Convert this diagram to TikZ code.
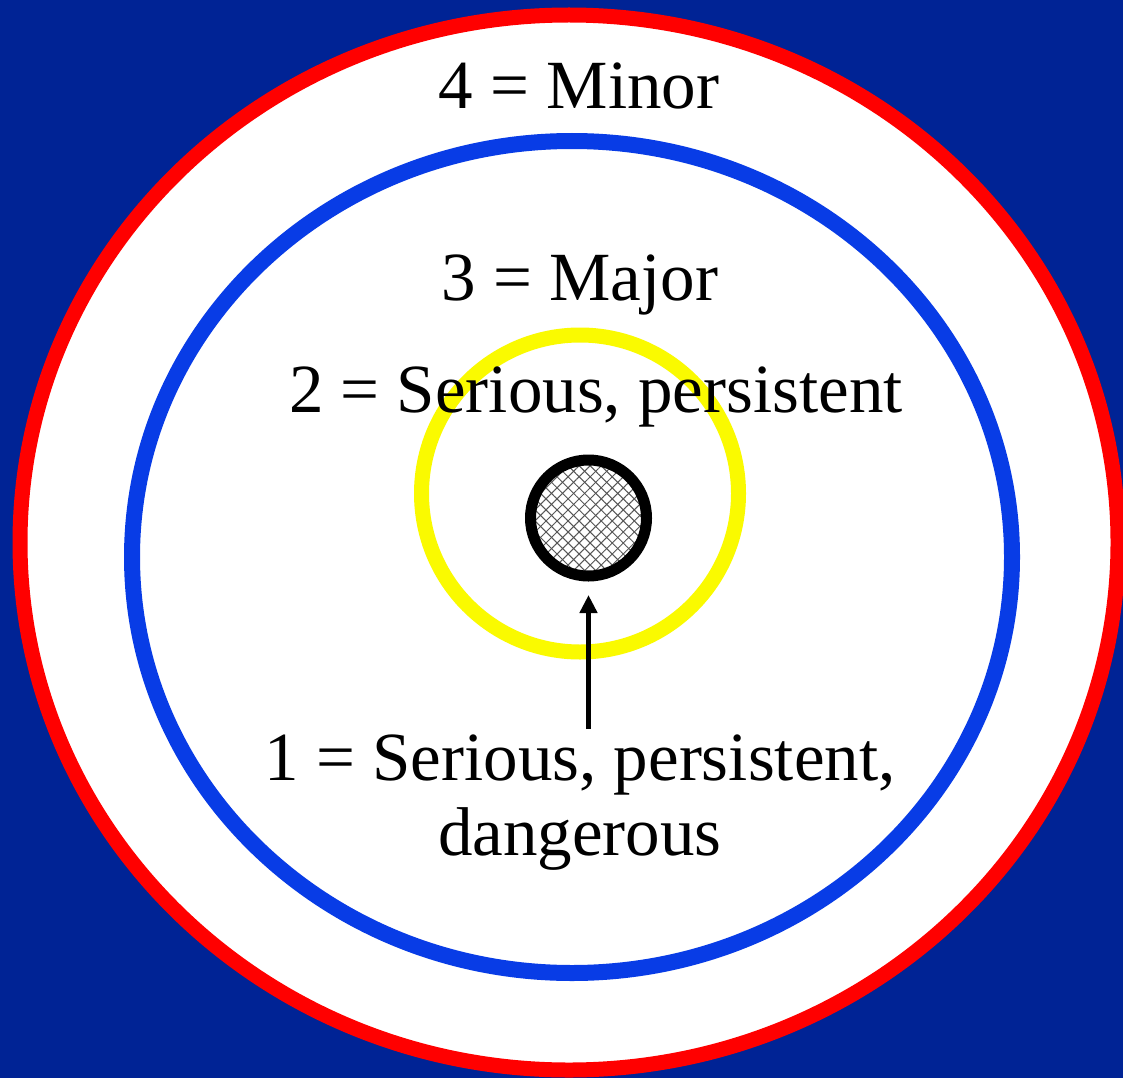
\documentclass[tikz,border=0pt]{standalone}
\usepackage{fontspec}
\setmainfont{Liberation Serif}
\usepackage{tikz}
\usetikzlibrary{arrows.meta,positioning,shapes.geometric,patterns.meta}
\definecolor{sevBack}{HTML}{002395}
\definecolor{sevRed}{HTML}{FF0000}
\definecolor{sevBlue}{HTML}{083CE6}
\definecolor{sevYellow}{HTML}{FAFA00}
\definecolor{sevHatch}{HTML}{555555}
\tikzset{
  ring/.style={draw=#1, line width=15pt, inner sep=0pt, outer sep=0pt},
  zone/.style={ring=#1, ellipse, fill=white},
  grade/.style={anchor=base, inner sep=0pt, align=center, font=\fontsize{69}{75}\selectfont},
  pointer/.style={-{Triangle[length=18pt,width=17pt]}, line width=5pt},
}

\begin{document}
\begin{tikzpicture}[x=1pt, y=-1pt]
\fill[sevBack] (0,0) rectangle (1123,1078);
\useasboundingbox (0,0) rectangle (1123,1078);

\node[zone=sevRed, minimum width=1098pt, minimum height=1055pt] (minor) at (569,542.5) {};
\node[zone=sevBlue, line width=16pt, minimum width=880pt, minimum height=832pt] (major) at (572,557) {};
\node[ring=sevYellow, circle, minimum size=317pt] (serious) at (580,493.5) {};

\node[grade] (g4) at (579,109) {4 = Minor};
\node[grade] (g3) at (580,300) {3 = Major};
\node[grade] (g2) at (596,412) {2 = Serious, persistent};
\node[grade] (g1) at (580,855) {1 = Serious, persistent,\\dangerous};

\node[ring=black, line width=11pt, circle, minimum size=116pt,
  preaction={fill=white},
  preaction={pattern={Lines[angle=45,distance=7.8pt,line width=1pt]}, pattern color=sevHatch},
  pattern={Lines[angle=-45,distance=7.8pt,line width=1pt]}, pattern color=sevHatch] (core) at (588.5,518) {};

\draw[pointer, shorten <=5pt, shorten >=19pt] (core.south |- g1.north) -- (core.south);
\end{tikzpicture}
\end{document}
